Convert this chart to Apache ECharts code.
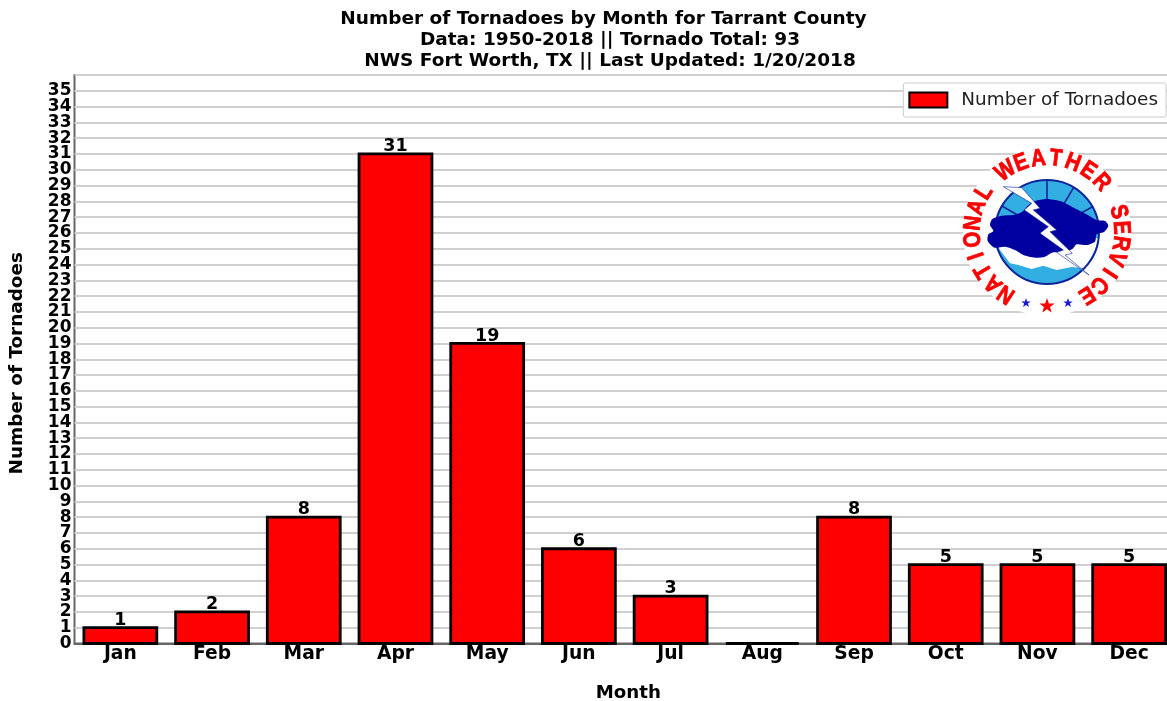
<!DOCTYPE html>
<html>
<head>
<meta charset="utf-8">
<style>html,body{margin:0;padding:0;background:#fff;overflow:hidden}#chart{width:1167px;height:701px}</style>
<script src="https://cdn.jsdelivr.net/npm/echarts@6/dist/echarts.min.js"></script>
</head>
<body>
<div id="chart"></div>
<script>
const months = ['Jan','Feb','Mar','Apr','May','Jun','Jul','Aug','Sep','Oct','Nov','Dec'];
const tornadoes = [1,2,8,31,19,6,3,0,8,5,5,5];
const titleLines = [
  'Number of Tornadoes by Month for Tarrant County',
  'Data: 1950-2018 || Tornado Total: 93',
  'NWS Fort Worth, TX || Last Updated: 1/20/2018'
];
const seriesName = 'Number of Tornadoes';
const FONT = '"DejaVu Sans"';

// National Weather Service emblem, assembled from simple shapes
const cx = 1047, cy = 232;
const navy = '#0000a0', rim = '#10259a', sky = '#33aee2';
// Outlines are sketched on a 3x grid whose origin sits up and left of the emblem
const grid3 = pts => pts.map(([x, y]) => [cx + (x - 186) / 3, cy + (y - 171) / 3]);

function ringLetters(word, startDeg, stepDeg, radius) {
  return word.split('').map((ch, i) => {
    const a = (startDeg + i * stepDeg) * Math.PI / 180;
    return {
      type: 'text', z: 26,
      x: cx + radius * Math.sin(a), y: cy - radius * Math.cos(a),
      rotation: -a, scaleX: 0.85,
      style: { text: ch, fill: '#ff0000', stroke: '#ff0000', lineWidth: 0.8, font: 'bold 24px "Liberation Sans"', textAlign: 'center', textVerticalAlign: 'middle' }
    };
  });
}
function star(x, y, r, fill) {
  return { type: 'polygon', z: 26, shape: { points: Array.from({length: 10}, (_, i) => {
    const a = i * Math.PI / 5, k = i % 2 ? r * 0.4 : r;
    return [x + k * Math.sin(a), y - k * Math.cos(a)];
  }) }, style: { fill } };
}
function spoke(deg) {
  const a = deg * Math.PI / 180;
  return { type: 'line', z: 21, shape: {
    x1: cx + 30 * Math.sin(a), y1: cy - 30 * Math.cos(a),
    x2: cx + 52 * Math.sin(a), y2: cy - 52 * Math.cos(a)
  }, style: { stroke: rim, lineWidth: 1.6 } };
}
const cloudOutline = [[15,150],[22,132],[50,122],[85,120],[110,112],[128,92],[150,78],[185,72],[225,78],[255,92],[285,108],[312,122],[335,135],[360,138],[370,152],[358,170],[335,178],[330,200],[305,210],[275,208],[262,222],[235,232],[205,232],[180,245],[150,248],[115,240],[90,225],[60,215],[28,218],[8,198],[10,178],[25,168]];
const boltOutline = [[55,35],[110,38],[165,100],[145,105],[215,165],[195,170],[262,235],[240,240],[312,300],[215,232],[235,225],[165,175],[190,155],[118,105],[140,85]];
const hazeOutline = [[28,190],[340,190],[330,225],[300,280],[260,276],[215,285],[175,272],[140,282],[100,270],[75,265],[45,225]];
const emblem = [
  { type: 'circle', z: 19, shape: { cx, cy, r: 84 }, style: { fill: '#fff' } },
  { type: 'circle', z: 20, shape: { cx, cy, r: 52 }, style: { fill: sky } },
  spoke(-60), spoke(0), spoke(31), spoke(61),
  { type: 'polygon', z: 22, shape: { points: grid3(hazeOutline) }, style: { fill: '#fff' } },
  { type: 'circle', z: 23, shape: { cx, cy, r: 52 }, style: { fill: 'none', stroke: rim, lineWidth: 2 } },
  { type: 'polygon', z: 24, shape: { points: grid3(cloudOutline), smooth: 0.25 }, style: { fill: navy } },
  { type: 'polygon', z: 25, shape: { points: grid3(boltOutline) }, style: { fill: '#fff', stroke: rim, lineWidth: 0.6 } },
  ...ringLetters('NATIONAL', -146.7, 12.7, 74),
  ...ringLetters('WEATHER', -34, 13.6, 73.5),
  ...ringLetters('SERVICE', 74.4, 12.2, 74),
  star(cx, cy + 74, 8, '#ff0000'),
  star(cx - 21, cy + 71, 5, '#1a1ad8'),
  star(cx + 21, cy + 71, 5, '#1a1ad8')
];

// Bars are stroked on their outline, centred on the value, with the count above
function renderMonthBar(params, api) {
  const value = api.value(1);
  const base = api.coord([api.value(0), 0]);
  const top = api.coord([api.value(0), value]);
  const width = api.size([1, 0])[0] * 0.795;
  return {
    type: 'rect',
    shape: { x: base[0] - width / 2, y: top[1], width, height: base[1] - top[1] },
    style: { fill: '#ff0000', stroke: '#000', lineWidth: 2.8 },
    textContent: value === 0 ? undefined : {
      type: 'text',
      style: { text: String(value), fontFamily: FONT, fontSize: 17.5, fontWeight: 'bold', fill: '#000' }
    },
    textConfig: { position: 'top', distance: -3 }
  };
}

const tickLabel = { fontFamily: FONT, fontSize: 17, fontWeight: 'bold', color: '#000', margin: 3, hideOverlap: false };

const chart = echarts.init(document.getElementById('chart'), null, { renderer: 'canvas' });
chart.setOption({
  animation: false,
  backgroundColor: '#fff',
  title: [
    { text: titleLines[0], left: 598.5, top: 5, textAlign: 'center', textStyle: { fontFamily: FONT, fontSize: 18.5, fontWeight: 'bold', color: '#000' } },
    { text: titleLines[1], left: 605, top: 26, textAlign: 'center', textStyle: { fontFamily: FONT, fontSize: 18.5, fontWeight: 'bold', color: '#000' } },
    { text: titleLines[2], left: 605, top: 47, textAlign: 'center', textStyle: { fontFamily: FONT, fontSize: 18.5, fontWeight: 'bold', color: '#000' } }
  ],
  legend: {
    right: 1, top: 83, padding: [8, 8, 8, 5],
    icon: 'rect', itemWidth: 38, itemHeight: 15, itemGap: 0,
    backgroundColor: '#fff', borderColor: '#ccc', borderWidth: 1, borderRadius: 2,
    textStyle: { fontFamily: FONT, fontSize: 18.4, color: '#222', padding: [0, 0, 0, 9] },
    data: [seriesName]
  },
  grid: { left: 74.5, top: 75, right: -8, bottom: 57.5, outerBoundsMode: 'none', containLabel: false, show: true, borderColor: '#666', borderWidth: 2, backgroundColor: 'transparent' },
  xAxis: {
    type: 'category', data: months,
    name: 'Month', nameLocation: 'middle', nameGap: 41,
    nameTextStyle: { fontFamily: FONT, fontSize: 18.2, fontWeight: 'bold', color: '#000', padding: [0, 0, 0, 7] },
    axisLine: { show: true, lineStyle: { color: '#666', width: 2 } },
    axisTick: { show: false },
    axisLabel: { fontFamily: FONT, fontSize: 18.7, fontWeight: 'bold', color: '#000', margin: 1 }
  },
  yAxis: [{
    type: 'value', min: 0, max: 36, interval: 1,
    name: 'Number of Tornadoes', nameLocation: 'middle', nameGap: 48,
    nameTextStyle: { fontFamily: FONT, fontSize: 18.4, fontWeight: 'bold', color: '#000', padding: [0, 8, 0, 0] },
    axisLine: { show: false }, axisTick: { show: false },
    axisLabel: { ...tickLabel, showMinLabel: false, formatter: v => v === 36 ? '' : String(v) },
    splitLine: { show: true, showMinLine: false, lineStyle: { color: '#d0d0d0', width: 2 } }
  }, {
    // companion axis on the same scale, carrying the zero label the tight spacing would drop
    type: 'value', position: 'left', min: 0, max: 36, interval: 1,
    axisLine: { show: false }, axisTick: { show: false }, splitLine: { show: false },
    axisLabel: { ...tickLabel, showMinLabel: true, formatter: v => v === 0 ? '0' : '' }
  }],
  series: [{
    name: seriesName, type: 'custom', z: 5,
    data: months.map((m, i) => [i, tornadoes[i]]),
    encode: { x: 0, y: 1 },
    itemStyle: { color: '#ff0000', borderColor: '#000', borderWidth: 2.5 },
    renderItem: renderMonthBar
  }],
  graphic: { elements: emblem }
});
</script>
</body>
</html>
